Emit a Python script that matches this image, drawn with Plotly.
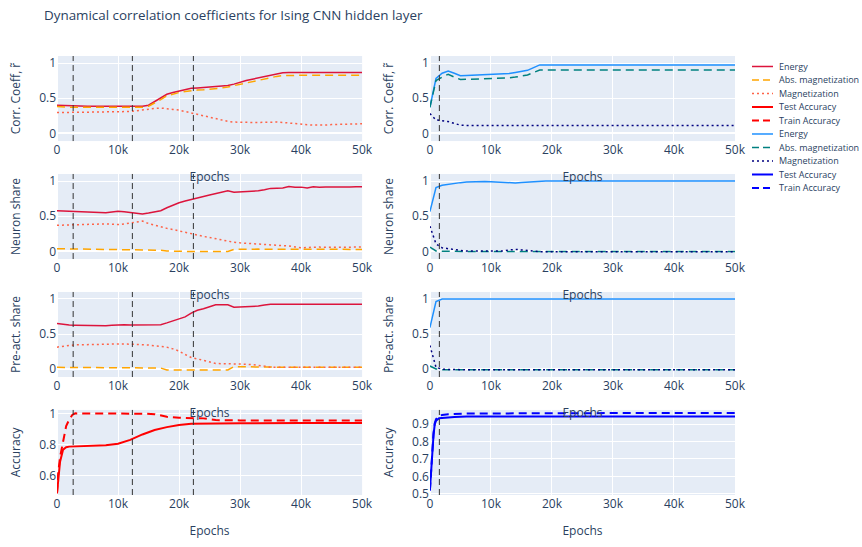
import plotly.graph_objects as go
from plotly.subplots import make_subplots

# Epoch grid for the correlation / share curves (every 1000 epochs)
EPOCHS = list(range(0, 50001, 1000))

# ---- Left column (red palette) ----
corr_energy_L = [0.40, 0.395, 0.39, 0.39, 0.385, 0.385, 0.385, 0.385, 0.385, 0.385,
                 0.385, 0.385, 0.385, 0.385, 0.385, 0.40, 0.45, 0.50, 0.555, 0.58,
                 0.60, 0.62, 0.64, 0.645, 0.65, 0.655, 0.66, 0.67, 0.68, 0.70,
                 0.73, 0.75, 0.77, 0.79, 0.81, 0.83, 0.85, 0.86, 0.865, 0.868,
                 0.865, 0.865, 0.865, 0.865, 0.865, 0.865, 0.865, 0.865, 0.865, 0.865, 0.865]
corr_absmag_L = [0.38, 0.37, 0.37, 0.37, 0.37, 0.37, 0.37, 0.37, 0.37, 0.37,
                 0.37, 0.37, 0.37, 0.37, 0.37, 0.385, 0.43, 0.48, 0.535, 0.56,
                 0.58, 0.595, 0.61, 0.615, 0.62, 0.625, 0.635, 0.645, 0.66, 0.68,
                 0.70, 0.72, 0.74, 0.76, 0.78, 0.795, 0.81, 0.82, 0.825, 0.827,
                 0.827, 0.827, 0.827, 0.827, 0.827, 0.827, 0.827, 0.827, 0.827, 0.827, 0.827]
corr_mag_L = [0.295, 0.296, 0.297, 0.298, 0.299, 0.30, 0.30, 0.301, 0.302, 0.303,
              0.305, 0.31, 0.31, 0.32, 0.335, 0.35, 0.355, 0.36, 0.355, 0.34,
              0.33, 0.31, 0.29, 0.27, 0.245, 0.22, 0.20, 0.185, 0.17, 0.16,
              0.155, 0.155, 0.155, 0.155, 0.16, 0.165, 0.16, 0.155, 0.145, 0.135,
              0.127, 0.122, 0.118, 0.114, 0.118, 0.124, 0.128, 0.13, 0.132, 0.134, 0.136]

share_energy_L = [0.578, 0.575, 0.572, 0.57, 0.565, 0.56, 0.557, 0.553, 0.55, 0.56,
                  0.569, 0.562, 0.55, 0.54, 0.532, 0.545, 0.56, 0.578, 0.62, 0.656,
                  0.69, 0.716, 0.74, 0.765, 0.78, 0.80, 0.82, 0.85, 0.86, 0.84,
                  0.845, 0.85, 0.853, 0.86, 0.876, 0.895, 0.898, 0.90, 0.922, 0.91,
                  0.913, 0.90, 0.917, 0.91, 0.914, 0.912, 0.916, 0.914, 0.916, 0.917, 0.917]
share_absmag_L = [0.037, 0.036, 0.035, 0.034, 0.033, 0.032, 0.03, 0.028, 0.026, 0.025,
                  0.023, 0.023, 0.023, 0.023, 0.023, 0.023, 0.023, 0.015, 0.005, 0.0,
                  -0.002, -0.002, -0.002, -0.002, -0.002, -0.002, -0.002, -0.002, -0.002, 0.027,
                  0.03, 0.032, 0.032, 0.031, 0.03, 0.03, 0.029, 0.029, 0.028, 0.028,
                  0.027, 0.027, 0.027, 0.027, 0.027, 0.027, 0.027, 0.027, 0.027, 0.027, 0.027]
share_mag_L = [0.37, 0.373, 0.376, 0.38, 0.385, 0.39, 0.392, 0.395, 0.39, 0.385,
               0.38, 0.39, 0.40, 0.415, 0.43, 0.395, 0.37, 0.345, 0.326, 0.31,
               0.29, 0.265, 0.243, 0.228, 0.212, 0.197, 0.178, 0.158, 0.138, 0.128,
               0.12, 0.115, 0.11, 0.102, 0.096, 0.092, 0.088, 0.083, 0.075, 0.062,
               0.05, 0.055, 0.06, 0.06, 0.058, 0.06, 0.062, 0.058, 0.06, 0.06, 0.06]

preact_energy_L = [0.653, 0.64, 0.63, 0.628, 0.626, 0.624, 0.62, 0.616, 0.62, 0.626,
                   0.634, 0.632, 0.63, 0.632, 0.634, 0.634, 0.634, 0.634, 0.66, 0.69,
                   0.72, 0.745, 0.80, 0.84, 0.86, 0.89, 0.917, 0.917, 0.917, 0.884,
                   0.886, 0.887, 0.889, 0.90, 0.913, 0.926, 0.926, 0.926, 0.926, 0.926,
                   0.926, 0.926, 0.926, 0.926, 0.926, 0.926, 0.926, 0.926, 0.926, 0.926, 0.926]
preact_absmag_L = [0.028, 0.027, 0.026, 0.025, 0.024, 0.024, 0.023, 0.023, 0.023, 0.023,
                   0.023, 0.022, 0.021, 0.02, 0.02, 0.019, 0.019, 0.018, -0.01, -0.01,
                   -0.01, -0.01, -0.01, -0.01, -0.01, -0.01, -0.01, -0.01, -0.01, 0.037,
                   0.035, 0.034, 0.033, 0.032, 0.031, 0.03, 0.03, 0.029, 0.029, 0.028,
                   0.028, 0.028, 0.028, 0.028, 0.028, 0.028, 0.028, 0.028, 0.028, 0.028, 0.028]
preact_mag_L = [0.315, 0.33, 0.34, 0.347, 0.35, 0.352, 0.355, 0.357, 0.36, 0.36,
                0.36, 0.36, 0.36, 0.355, 0.35, 0.345, 0.338, 0.33, 0.315, 0.29,
                0.26, 0.21, 0.167, 0.148, 0.13, 0.105, 0.083, 0.08, 0.08, 0.08,
                0.079, 0.072, 0.066, 0.06, 0.045, 0.028, 0.028, 0.028, 0.028, 0.028,
                0.028, 0.028, 0.028, 0.028, 0.028, 0.028, 0.028, 0.028, 0.028, 0.028, 0.028]

# ---- Right column (blue palette) ----
corr_energy_R = [0.37, 0.78, 0.855, 0.887, 0.855, 0.82, 0.823, 0.826, 0.83, 0.833,
                 0.836, 0.84, 0.845, 0.85, 0.865, 0.88, 0.896, 0.935, 0.973, 0.973] + [0.973] * 31
corr_absmag_R = [0.37, 0.75, 0.80, 0.84, 0.80, 0.766, 0.768, 0.77, 0.772, 0.774,
                 0.775, 0.78, 0.785, 0.79, 0.80, 0.815, 0.83, 0.865, 0.90, 0.90] + [0.90] * 31
corr_mag_R = [0.28, 0.19, 0.18, 0.167, 0.14, 0.117, 0.113, 0.113, 0.113, 0.113,
              0.113, 0.113, 0.113, 0.113, 0.113, 0.113, 0.113, 0.113, 0.113, 0.113] + [0.113] * 31

share_energy_R = [0.564, 0.908, 0.94, 0.955, 0.967, 0.977, 0.985, 0.99, 0.995, 0.993,
                  0.99, 0.985, 0.98, 0.975, 0.972, 0.978, 0.985, 0.993, 1.0, 1.0] + [1.0] * 31
share_absmag_R = [0.06, 0.005, 0.0, -0.002, -0.003, -0.003, -0.003, -0.003, -0.003, -0.003,
                  -0.003, -0.003, -0.003, -0.003, -0.003, -0.003, -0.003, -0.003, -0.003, -0.003] + [-0.003] * 31
share_mag_R = [0.358, 0.105, 0.05, 0.035, 0.023, 0.012, 0.005, 0.005, 0.005, 0.005,
               0.005, 0.005, 0.005, 0.018, 0.028, 0.02, 0.01, 0.0, -0.005, -0.005] + [-0.005] * 31

preact_energy_R = [0.593, 0.963, 1.0, 1.0, 1.0, 1.0, 1.0, 1.0, 1.0, 1.0,
                   1.0, 1.0, 1.0, 1.0, 1.0, 1.0, 1.0, 1.0, 1.0, 1.0] + [1.0] * 31
preact_absmag_R = [0.046, 0.005, -0.005, -0.005, -0.005, -0.005, -0.005, -0.005, -0.005, -0.005,
                   -0.005, -0.005, -0.005, -0.005, -0.005, -0.005, -0.005, -0.005, -0.005, -0.005] + [-0.005] * 31
preact_mag_R = [0.338, 0.028, 0.0, -0.005, -0.005, -0.005, -0.005, -0.005, -0.005, -0.005,
                -0.005, -0.005, -0.005, -0.005, -0.005, -0.005, -0.005, -0.005, -0.005, -0.005] + [-0.005] * 31

# ---- Accuracy curves ----
ACC_EPOCHS_L = [0, 200, 500, 1000, 1500, 2000, 2500, 3000, 5000, 8000, 10000, 12000,
                14000, 16000, 18000, 20000, 22000, 24000, 26000, 30000, 40000, 50000]
test_acc_L = [0.488, 0.585, 0.69, 0.768, 0.783, 0.787, 0.788, 0.789, 0.789, 0.796, 0.806, 0.83,
              0.865, 0.893, 0.912, 0.925, 0.933, 0.935, 0.936, 0.937, 0.938, 0.938]
train_acc_L = [0.488, 0.62, 0.72, 0.83, 0.918, 0.96, 0.99, 1.0, 1.0, 1.0, 1.0, 1.0,
               0.998, 0.995, 0.978, 0.972, 0.968, 0.968, 0.957, 0.955, 0.955, 0.955]

ACC_EPOCHS_R = [0, 200, 400, 600, 800, 1000, 1500, 2000, 3000, 4000, 6000, 10000,
                20000, 30000, 40000, 50000]
test_acc_R = [0.519, 0.64, 0.76, 0.84, 0.90, 0.919, 0.934, 0.936, 0.938, 0.940, 0.943, 0.943,
              0.943, 0.943, 0.943, 0.943]
train_acc_R = [0.519, 0.64, 0.76, 0.85, 0.905, 0.928, 0.947, 0.952, 0.956, 0.958, 0.96, 0.961,
               0.963, 0.964, 0.964, 0.964]

# Phase boundaries marked with dashed vertical lines
PHASES_L = [2650, 12350, 22350]
PHASES_R = [1550]

TITLE = "Dynamical correlation coefficients for Ising CNN hidden layer"
METRIC_NAMES = ["Energy", "Abs. magnetization", "Magnetization"]
ACC_NAMES = ["Test Accuracy", "Train Accuracy"]
Y_TITLES = ["Corr. Coeff, r\u0303", "Neuron share", "Pre-act. share", "Accuracy"]

DASH = "8px,5px"
DOT = "2px,3px"
STYLE_L = [("crimson", "solid"), ("orange", DASH), ("tomato", DOT)]
STYLE_R = [("dodgerblue", "solid"), ("teal", DASH), ("navy", DOT)]
ACC_STYLE_L = [("red", "solid"), ("red", DASH)]
ACC_STYLE_R = [("blue", "solid"), ("blue", DASH)]

rows_L = [(corr_energy_L, corr_absmag_L, corr_mag_L),
          (share_energy_L, share_absmag_L, share_mag_L),
          (preact_energy_L, preact_absmag_L, preact_mag_L)]
rows_R = [(corr_energy_R, corr_absmag_R, corr_mag_R),
          (share_energy_R, share_absmag_R, share_mag_R),
          (preact_energy_R, preact_absmag_R, preact_mag_R)]

W, H = 862, 547
M = dict(l=57, r=127, t=56, b=39)

fig = make_subplots(rows=4, cols=2)

for col, rows, styles, acc_x, acc_series, acc_styles in [
        (1, rows_L, STYLE_L, ACC_EPOCHS_L, (test_acc_L, train_acc_L), ACC_STYLE_L),
        (2, rows_R, STYLE_R, ACC_EPOCHS_R, (test_acc_R, train_acc_R), ACC_STYLE_R)]:
    for r, series in enumerate(rows, start=1):
        for name, ys, (color, dash) in zip(METRIC_NAMES, series, styles):
            fig.add_trace(go.Scatter(x=EPOCHS, y=ys, mode="lines", name=name,
                                     line=dict(color=color, dash=dash, width=1.5),
                                     showlegend=False),
                          row=r, col=col)
    for name, ys, (color, dash) in zip(ACC_NAMES, acc_series, acc_styles):
        fig.add_trace(go.Scatter(x=acc_x, y=ys, mode="lines", name=name,
                                 line=dict(color=color, dash=dash, width=2),
                                 showlegend=False),
                      row=4, col=col)

for col, phases in [(1, PHASES_L), (2, PHASES_R)]:
    for r in range(1, 5):
        for p in phases:
            fig.add_vline(x=p, line_dash="6px,4px", line_color="#333", line_width=1,
                          row=r, col=col)

for r in range(1, 5):
    for c in (1, 2):
        fig.update_xaxes(title_text="Epochs", title_font_size=12, range=[0, 50000],
                         dtick=10000, row=r, col=c)
        fig.update_yaxes(title_text=Y_TITLES[r - 1], title_font_size=12, row=r, col=c)
        if r < 4:
            fig.update_yaxes(range=[-0.11, 1.1], dtick=0.5, row=r, col=c)

fig.update_yaxes(range=[0.477, 1.022], dtick=0.2, row=4, col=1)
fig.update_yaxes(range=[0.493, 0.981], dtick=0.1, row=4, col=2)

# Pixel -> paper conversion for items placed in the margins
plot_w = W - M["l"] - M["r"]
plot_h = H - M["t"] - M["b"]


def paper_x(px):
    return (px - M["l"]) / plot_w


def paper_y(py):
    return (H - M["b"] - py) / plot_h


# Compact legend column to the right of the grid (drawn as shapes + labels)
legend_entries = (list(zip(METRIC_NAMES + ACC_NAMES, STYLE_L + ACC_STYLE_L)) +
                  list(zip(METRIC_NAMES + ACC_NAMES, STYLE_R + ACC_STYLE_R)))
LEG_TOP, LEG_STEP = 66.8, 13.9
for i, (name, (color, dash)) in enumerate(legend_entries):
    yc = paper_y(LEG_TOP + LEG_STEP * i)
    width = 2 if name in ACC_NAMES else 1.5
    fig.add_shape(type="line", xref="paper", yref="paper",
                  x0=paper_x(752), x1=paper_x(773), y0=yc, y1=yc,
                  line=dict(color=color, dash="7px,4px" if dash == DASH else dash, width=width))
    fig.add_annotation(text=name, xref="paper", yref="paper", x=paper_x(777), y=yc,
                       xanchor="left", yanchor="middle", showarrow=False,
                       font=dict(size=9, color="#2a3f5f"))

# Figure heading, left-aligned above the grid
fig.add_annotation(text=TITLE, xref="paper", yref="paper", x=paper_x(42), y=paper_y(14),
                   xanchor="left", yanchor="middle", showarrow=False,
                   font=dict(size=13.4, color="#2a3f5f"))

fig.update_layout(
    width=W, height=H,
    margin=M,
    showlegend=False,
    template="plotly",
)

fig.write_html("out.html")
